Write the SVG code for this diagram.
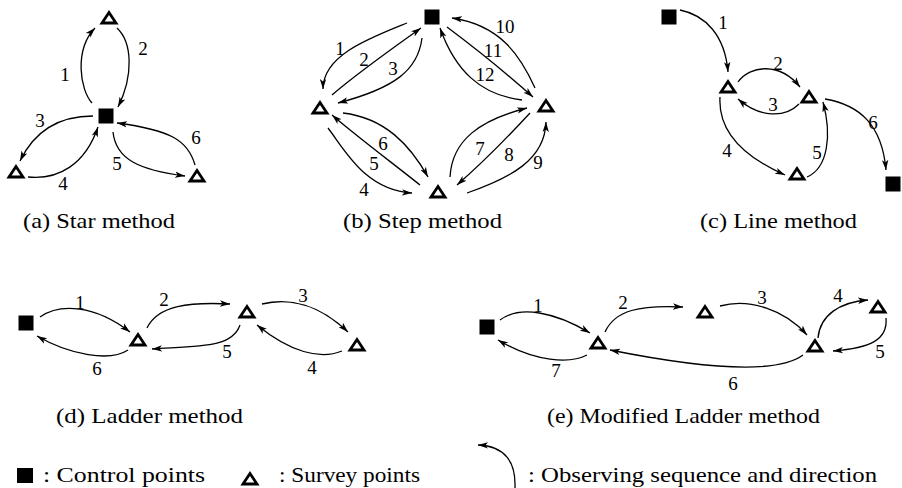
<svg xmlns="http://www.w3.org/2000/svg" width="902" height="488" viewBox="0 0 902 488">
<style>
.c{fill:none;stroke:#000;stroke-width:1.3;marker-end:url(#ah)}
.tri{fill:none;stroke:#000;stroke-width:2.8;stroke-linejoin:miter}
.sq{fill:#000}
.lb{font-family:'Liberation Serif','DejaVu Serif',serif;font-size:19px;fill:#000;text-anchor:middle}
.cap{font-family:'Liberation Serif','DejaVu Serif',serif;font-size:22px;fill:#000}
</style>
<defs>
<marker id="ah" markerUnits="userSpaceOnUse" markerWidth="11" markerHeight="8" refX="10" refY="4" orient="auto" viewBox="0 0 11 8">
<path d="M0,0.8 L10,4 L0,7.2 L2.5,4 Z" fill="#000"/>
</marker>
<path id="tri" d="M-7,5 L0,-5.5 L7,5 Z"/>
<rect id="sq" x="-7.5" y="-7.5" width="15" height="15"/>
</defs>
<rect width="902" height="488" fill="#fff"/>

<g id="connectors">
<path class="c" d="M92,103 C80,90 74,50 95,28"/>
<path class="c" d="M117,28 C132,42 134,75 118,107"/>
<path class="c" d="M93,116 C60,116 35,130 20,161"/>
<path class="c" d="M28,177 C58,180 85,165 98,127"/>
<path class="c" d="M113,132 C116,160 140,170 185,176"/>
<path class="c" d="M195,165 C188,140 170,130 117,123"/>
<path class="c" d="M407,23 C370,38 323,55 323,89"/>
<path class="c" d="M332,95 C355,75 390,50 421,28"/>
<path class="c" d="M422,38 C418,70 395,88 338,103"/>
<path class="c" d="M328,128 C345,150 365,190 412,193"/>
<path class="c" d="M420,185 C395,165 355,135 332,115"/>
<path class="c" d="M343,113 C385,118 410,145 428,177"/>
<path class="c" d="M450,177 C452,140 480,120 527,108"/>
<path class="c" d="M530,113 C505,140 480,165 457,185"/>
<path class="c" d="M467,193 C510,178 545,160 546,122"/>
<path class="c" d="M535,88 C520,55 500,25 452,18"/>
<path class="c" d="M447,27 C475,48 505,72 533,97"/>
<path class="c" d="M522,100 C480,95 455,70 440,28"/>
<path class="c" d="M680,10 C705,15 725,35 728,72"/>
<path class="c" d="M738,82 C750,65 780,62 800,87"/>
<path class="c" d="M799,104 C785,118 760,118 738,99"/>
<path class="c" d="M720,97 C718,130 740,155 785,175"/>
<path class="c" d="M807,177 C828,168 832,135 823,102"/>
<path class="c" d="M825,99 C860,105 882,125 886,170"/>
<path class="c" d="M40,317 C60,303 95,305 130,332"/>
<path class="c" d="M147,328 C158,305 190,302 230,304"/>
<path class="c" d="M262,304 C290,297 320,305 348,332"/>
<path class="c" d="M342,351 C320,360 290,352 257,325"/>
<path class="c" d="M240,325 C232,348 200,346 152,349"/>
<path class="c" d="M128,350 C110,362 70,355 37,336"/>
<path class="c" d="M500,320 C520,305 555,312 590,333"/>
<path class="c" d="M605,332 C615,310 640,305 683,307"/>
<path class="c" d="M720,306 C750,298 785,310 807,335"/>
<path class="c" d="M818,338 C820,315 840,302 868,300"/>
<path class="c" d="M886,318 C888,340 870,348 833,351"/>
<path class="c" d="M803,355 C780,372 720,372 610,350"/>
<path class="c" d="M587,355 C570,364 535,362 498,340"/>
<path class="c" d="M515,488 C516,462 505,446 478,445"/>
</g>

<g id="a-nodes">
<g id="a-ctrl"><use href="#sq" class="sq" x="106" y="116"/></g>
<g id="a-top"><use href="#tri" class="tri" x="109" y="18"/></g>
<g id="a-left"><use href="#tri" class="tri" x="16" y="172"/></g>
<g id="a-right"><use href="#tri" class="tri" x="197" y="176"/></g>
</g>
<g id="b-nodes">
<g id="b-ctrl"><use href="#sq" class="sq" x="432" y="17"/></g>
<g id="b-left"><use href="#tri" class="tri" x="320" y="108"/></g>
<g id="b-right"><use href="#tri" class="tri" x="546" y="106"/></g>
<g id="b-bottom"><use href="#tri" class="tri" x="438" y="192"/></g>
</g>
<g id="c-nodes">
<g id="c-ctrl1"><use href="#sq" class="sq" x="669" y="17"/></g>
<g id="c-p1"><use href="#tri" class="tri" x="728" y="87"/></g>
<g id="c-p2"><use href="#tri" class="tri" x="809" y="97"/></g>
<g id="c-p3"><use href="#tri" class="tri" x="797" y="174"/></g>
<g id="c-ctrl2"><use href="#sq" class="sq" x="893" y="184"/></g>
</g>
<g id="d-nodes">
<g id="d-ctrl"><use href="#sq" class="sq" x="26" y="323"/></g>
<g id="d-p1"><use href="#tri" class="tri" x="138" y="340"/></g>
<g id="d-p2"><use href="#tri" class="tri" x="247" y="312"/></g>
<g id="d-p3"><use href="#tri" class="tri" x="357" y="345"/></g>
</g>
<g id="e-nodes">
<g id="e-ctrl"><use href="#sq" class="sq" x="487" y="327"/></g>
<g id="e-p1"><use href="#tri" class="tri" x="598" y="343"/></g>
<g id="e-p2"><use href="#tri" class="tri" x="705" y="312"/></g>
<g id="e-p3"><use href="#tri" class="tri" x="815" y="346"/></g>
<g id="e-p4"><use href="#tri" class="tri" x="878" y="307"/></g>
</g>

<g id="labels" class="lb" font-family="'Liberation Serif', 'DejaVu Serif', serif">
<text x="65" y="81">1</text><text x="143" y="55">2</text><text x="40" y="127">3</text>
<text x="63" y="190">4</text><text x="117" y="170">5</text><text x="196" y="144">6</text>
<text x="340" y="55">1</text><text x="364" y="66">2</text><text x="393" y="75">3</text>
<text x="364" y="196">4</text><text x="374" y="170">5</text><text x="383" y="150">6</text>
<text x="480" y="155">7</text><text x="509" y="161">8</text><text x="538" y="169">9</text>
<text x="505" y="33">10</text><text x="493" y="57">11</text><text x="485" y="81">12</text>
<text x="723" y="29">1</text><text x="778" y="70">2</text><text x="773" y="111">3</text>
<text x="727" y="157">4</text><text x="817" y="159">5</text><text x="873" y="129">6</text>
<text x="80" y="309">1</text><text x="164" y="306">2</text><text x="303" y="302">3</text>
<text x="312" y="374">4</text><text x="227" y="358">5</text><text x="97" y="375">6</text>
<text x="538" y="312">1</text><text x="623" y="309">2</text><text x="762" y="304">3</text>
<text x="838" y="302">4</text><text x="880" y="358">5</text><text x="733" y="390">6</text>
<text x="556" y="377">7</text>
</g>

<g id="captions" class="cap" font-family="'Liberation Serif', 'DejaVu Serif', serif">
<text x="23" y="228" textLength="152" lengthAdjust="spacingAndGlyphs">(a) Star method</text>
<text x="343" y="228" textLength="159" lengthAdjust="spacingAndGlyphs">(b) Step method</text>
<text x="700" y="228" textLength="157" lengthAdjust="spacingAndGlyphs">(c) Line method</text>
<text x="56" y="423" textLength="187" lengthAdjust="spacingAndGlyphs">(d) Ladder method</text>
<text x="547" y="423" textLength="273" lengthAdjust="spacingAndGlyphs">(e) Modified Ladder method</text>
</g>

<g id="legend" class="cap" font-family="'Liberation Serif', 'DejaVu Serif', serif">
<g id="legend-ctrl"><rect x="17" y="468" width="16" height="15" fill="#000"/></g>
<g id="legend-survey"><use href="#tri" class="tri" x="250" y="479"/></g>
<text x="43" y="482" textLength="162" lengthAdjust="spacingAndGlyphs">: Control  points</text>
<text x="279" y="482" textLength="141" lengthAdjust="spacingAndGlyphs">: Survey  points</text>
<text x="528" y="482" textLength="349" lengthAdjust="spacingAndGlyphs">: Observing sequence and direction</text>
</g>
</svg>
